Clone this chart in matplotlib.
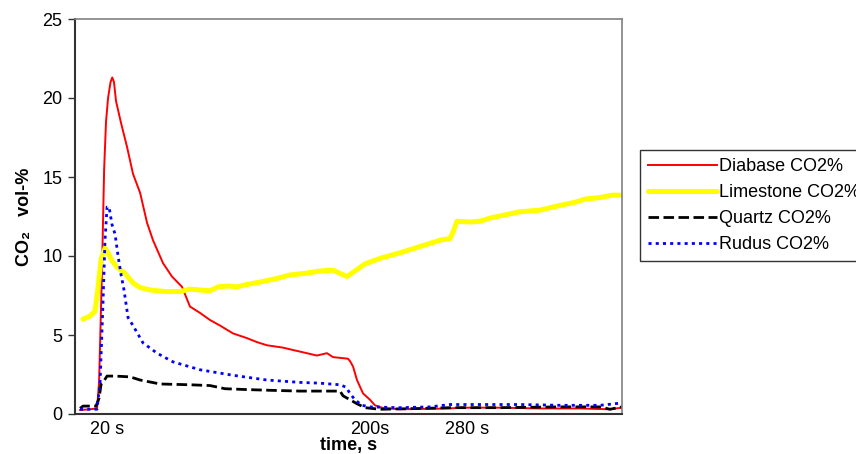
import matplotlib
matplotlib.use("Agg")
import matplotlib.pyplot as plt

plt.rcParams['font.family'] = ['Liberation Sans', 'DejaVu Sans']

# ---- data (time in s on the chart's own scale, CO2 vol-%) ----
diabase_t = [1.4, 8.3, 13.1, 14.5, 16.5, 18.0, 19.3, 20.7, 22.4, 23.6, 24.8, 26.2, 29.7, 33.8, 37.9,
             42.8, 47.6, 51.7, 58.6, 64.8, 71.7, 77.2, 84.1, 91.0, 97.9, 106.9, 116.6, 123.4,
             130.3, 141.4, 148.3, 153.1, 164.8, 171.7, 175.9, 186.2, 187.6, 189.7, 192.4,
             196.6, 201.4, 204.8, 210.3, 222.0, 256.6, 263.4, 291.0, 318.6, 346.0, 366.9, 375.0]
diabase_v = [0.25, 0.3, 0.35, 2.0, 9.0, 15.5, 18.5, 20.0, 21.0, 21.3, 21.0, 19.8, 18.4, 16.9, 15.2,
             14.0, 12.1, 11.0, 9.55, 8.7, 8.05, 6.8, 6.4, 5.95, 5.6, 5.1, 4.8, 4.55,
             4.35, 4.2, 4.05, 3.95, 3.7, 3.85, 3.6, 3.5, 3.35, 3.0, 2.15,
             1.3, 0.9, 0.55, 0.38, 0.3, 0.35, 0.4, 0.4, 0.35, 0.35, 0.3, 0.4]

limestone_t = [3.4, 8.3, 11.7, 13.8, 15.9, 18.6, 20.7, 23.4, 26.9, 32.4, 37.9, 42.8, 49.7,
               60.0, 70.3, 77.2, 84.1, 91.0, 96.6, 103.4, 109.7, 116.6, 125.5, 135.9, 146.2,
               156.6, 166.9, 175.9, 180.7, 185.5, 191.0, 197.9, 208.3, 222.1, 235.9, 249.7,
               256.6, 258.6, 261.4, 270.3, 277.2, 284.1, 294.5, 304.8, 318.6, 332.4, 342.8,
               349.7, 360.0, 368.3, 375.2]
limestone_v = [6.0, 6.2, 6.5, 8.0, 9.8, 10.5, 10.2, 9.7, 9.3, 8.9, 8.3, 8.0, 7.85,
               7.75, 7.75, 7.9, 7.85, 7.8, 8.05, 8.1, 8.05, 8.2, 8.35, 8.55, 8.8,
               8.9, 9.05, 9.1, 8.9, 8.7, 9.05, 9.5, 9.85, 10.2, 10.6, 11.0,
               11.1, 11.5, 12.2, 12.15, 12.2, 12.4, 12.6, 12.8, 12.9, 13.2, 13.4,
               13.6, 13.7, 13.85, 13.85]

quartz_t = [1.4, 3.4, 12.4, 14.5, 15.9, 17.9, 20.0, 25.5, 35.9, 42.8, 56.6, 77.2, 91.0,
            101.4, 115.2, 132.4, 153.1, 180.7, 182.8, 187.6, 192.4, 197.9, 208.3, 235.9,
            256.6, 291.0, 332.4, 360.0, 366.9, 375.2]
quartz_v = [0.35, 0.5, 0.5, 1.0, 1.9, 2.1, 2.4, 2.4, 2.35, 2.15, 1.9, 1.85, 1.8,
            1.6, 1.55, 1.5, 1.45, 1.45, 1.15, 0.9, 0.65, 0.4, 0.3, 0.35,
            0.4, 0.4, 0.45, 0.45, 0.3, 0.45]

rudus_t = [1.4, 13.1, 15.2, 17.2, 18.6, 20.0, 21.4, 23.4, 25.5, 27.6, 29.7, 31.7, 34.5,
           37.9, 44.8, 54.5, 65.5, 84.1, 106.9, 130.3, 153.1, 166.9, 180.7, 184.8, 187.6,
           191.0, 195.9, 201.4, 222.1, 242.8, 256.6, 277.2, 304.8, 332.4, 360.0, 375.2]
rudus_v = [0.3, 0.3, 2.0, 7.0, 11.0, 13.1, 13.1, 12.0, 11.4, 10.0, 8.8, 7.85, 6.1,
           5.6, 4.5, 3.85, 3.3, 2.8, 2.45, 2.15, 2.0, 1.95, 1.85, 1.7, 1.3,
           0.9, 0.55, 0.45, 0.4, 0.45, 0.6, 0.6, 0.6, 0.55, 0.55, 0.7]

series_labels = ['Diabase CO2%', 'Limestone CO2%', 'Quartz CO2%', 'Rudus CO2%']
xtick_pos = [20, 201, 268]
xtick_labels = ['20 s', '200s', '280 s']
ytick_vals = [0, 5, 10, 15, 20, 25]

FS = 13

fig = plt.figure(figsize=(8.56, 4.54), dpi=100)
ax = fig.add_axes([75/856, 1 - 414/454, (622-75)/856, (414-19)/454])

ax.plot(diabase_t, diabase_v, color='#ff0000', lw=1.4, label=series_labels[0])
ax.plot(limestone_t, limestone_v, color='#ffff00', lw=3.6, solid_capstyle='round',
        solid_joinstyle='round', label=series_labels[1])
ax.plot(quartz_t, quartz_v, color='black', lw=2.0, dashes=(3.8, 1.6), label=series_labels[2])
ax.plot(rudus_t, rudus_v, color='#0000ff', lw=2.0, dashes=(1.1, 1.5), label=series_labels[3])

ax.set_xlim(-2.1, 375.2)
ax.set_ylim(0, 25)
ax.set_yticks(ytick_vals)
ax.set_xticks(xtick_pos)
ax.set_xticklabels(xtick_labels)

ax.tick_params(axis='y', direction='out', length=5, width=1, color='#333333',
               labelsize=FS, pad=4)
ax.tick_params(axis='x', length=0, labelsize=FS, pad=5)

for s in ['top', 'right']:
    ax.spines[s].set_color('#808080')
    ax.spines[s].set_linewidth(1.2)
for s in ['left', 'bottom']:
    ax.spines[s].set_color('#333333')
    ax.spines[s].set_linewidth(1.5)

ax.set_xlabel('time, s', fontsize=FS, fontweight='bold', labelpad=-1)
ax.set_ylabel('CO\u2082   vol-%', fontsize=FS, fontweight='bold', labelpad=7)

leg = fig.legend(loc='upper left', bbox_to_anchor=(640/856, 1 - 150/454),
                 fontsize=FS, handlelength=3.8, handletextpad=0.15, labelspacing=0.5,
                 frameon=True, fancybox=False, borderpad=0.45, borderaxespad=0)
leg.get_frame().set_edgecolor('black')
leg.get_frame().set_linewidth(1.0)

fig.savefig('out.png', dpi=100)
